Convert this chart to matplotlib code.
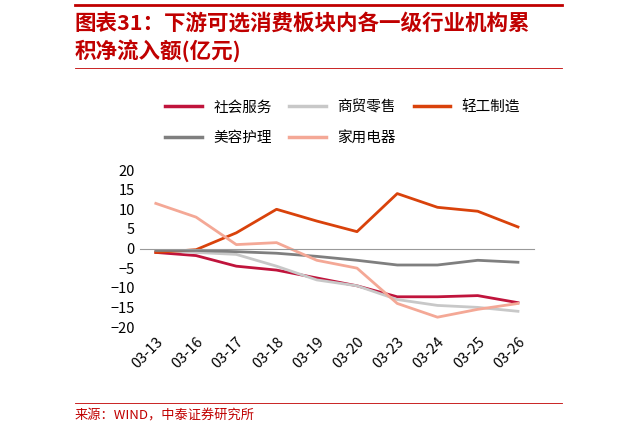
import matplotlib
matplotlib.use("Agg")
import matplotlib.pyplot as plt
from matplotlib.lines import Line2D

plt.rcParams['font.family'] = ['Noto Sans CJK SC', 'DejaVu Sans']

dates = ["03-13","03-16","03-17","03-18","03-19","03-20","03-23","03-24","03-25","03-26"]
social = [-1, -1.8, -4.5, -5.5, -7.5, -9.5, -12.3, -12.3, -12, -13.8]
retail = [-0.5, -1, -1.5, -4.5, -8, -9.5, -13, -14.5, -15, -16]
light = [-1, -0.3, 4, 10, 7, 4.3, 14, 10.5, 9.5, 5.5]
beauty = [-0.5, -0.5, -0.8, -1.2, -2, -3, -4.2, -4.2, -3, -3.5]
appliance = [11.5, 8, 1, 1.5, -3, -5, -14, -17.5, -15.5, -14]

names = ["社会服务", "商贸零售", "轻工制造", "美容护理", "家用电器"]
colors = ["#C0143C", "#C8C8C8", "#D9420B", "#7F7F7F", "#F4A896"]
series = [social, retail, light, beauty, appliance]

fig = plt.figure(figsize=(6.21, 4.36), dpi=100)
ax = fig.add_axes([0.225, 0.25, 0.635, 0.36])
x = list(range(len(dates)))
for s, c in zip(series, colors):
    ax.plot(x, s, color=c, lw=2)
ax.set_ylim(-20, 20)
ax.set_yticks(range(-20, 21, 5))
ax.set_xlim(-0.4, len(dates) - 0.6)
ax.set_xticks(x)
ax.tick_params(axis='y', labelsize=10.5, length=0)
ax.tick_params(axis='x', length=0, pad=62, labelsize=10.5)
ax.set_xticklabels(dates)
for sp in ['top', 'right', 'left']:
    ax.spines[sp].set_visible(False)
ax.spines['bottom'].set_position(('data', 0))
ax.spines['bottom'].set_color('#999999')
for lab in ax.get_xticklabels():
    lab.set_rotation(45)
    lab.set_ha('right')
    lab.set_va('top')
    lab.set_rotation_mode('anchor')

handles = [Line2D([], [], color=c, lw=2.5) for c in colors]
fig.legend(handles[:3], names[:3], loc='upper left', bbox_to_anchor=(0.245, 0.8), ncol=3,
           frameon=False, fontsize=10.5, handlelength=2.5, columnspacing=1.2)
fig.legend(handles[3:], names[3:], loc='upper left', bbox_to_anchor=(0.245, 0.73), ncol=2,
           frameon=False, fontsize=10.5, handlelength=2.5, columnspacing=1.2)

red = "#C00000"
fig.add_artist(Line2D([0.12, 0.905], [0.988, 0.988], color=red, lw=2))
fig.add_artist(Line2D([0.12, 0.905], [0.845, 0.845], color=red, lw=0.6))
fig.text(0.12, 0.945, "图表31：下游可选消费板块内各一级行业机构累", color=red, fontsize=15.5,
         fontweight='bold', style='italic', va='center')
fig.text(0.12, 0.885, "积净流入额(亿元)", color=red, fontsize=15.5,
         fontweight='bold', style='italic', va='center')
fig.add_artist(Line2D([0.12, 0.905], [0.075, 0.075], color=red, lw=0.6))
fig.text(0.12, 0.045, "来源：WIND，中泰证券研究所", color=red, fontsize=9.5, va='center')

fig.savefig("out.png", dpi=100)
